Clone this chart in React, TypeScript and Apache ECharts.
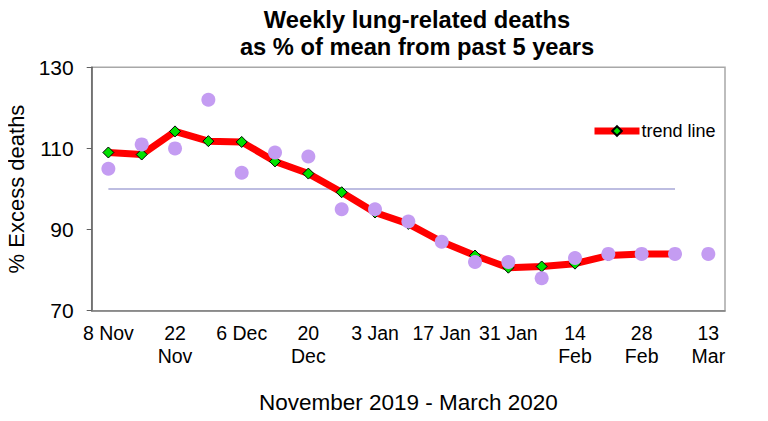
import React, { useEffect, useRef } from "react";
import * as echarts from "echarts";

const categories = [
  "8 Nov", "15 Nov", "22\nNov", "29 Nov", "6 Dec", "13 Dec", "20\nDec", "27 Dec",
  "3 Jan", "10 Jan", "17 Jan", "24 Jan", "31 Jan", "7 Feb", "14\nFeb", "21 Feb",
  "28\nFeb", "6 Mar", "13\nMar",
];
const weeklyValues = [105, 111, 110, 122, 104, 109, 108, 95, 95, 92, 87, 82, 82, 78, 83, 84, 84, 84, 84];
const trendValues: (number | null)[] = [109, 108.5, 114.2, 111.8, 111.6, 106.8, 103.8, 99.2, 94.2, 91.4, 87, 83.6, 80.6, 80.9, 81.6, 83.6, 84, 84, null];
const baselineValues: (number | null)[] = [100, 100, 100, 100, 100, 100, 100, 100, 100, 100, 100, 100, 100, 100, 100, 100, 100, 100, null];
const yTicks = [70, 90, 110, 130];

const FONT = "Liberation Sans, Arial, sans-serif";

export default function App() {
  const ref = useRef<HTMLDivElement>(null);
  useEffect(() => {
    if (!ref.current) return;
    const chart = echarts.init(ref.current, null, { renderer: "svg" });
    chart.setOption({
      animation: false,
      backgroundColor: "#ffffff",
      title: {
        text: "Weekly lung-related deaths\nas % of mean from past 5 years",
        left: 417,
        top: 6,
        padding: 0,
        textAlign: "center",
        textStyle: { fontFamily: FONT, fontSize: 23.7, fontWeight: "bold", color: "#000", lineHeight: 27 },
      },
      legend: {
        data: [{ name: "trend line" }],
        left: 591,
        top: 122,
        padding: 0,
        itemWidth: 45,
        itemHeight: 12,
        lineStyle: { width: 7, color: "#ff0000" },
        textStyle: { fontFamily: FONT, fontSize: 18, color: "#000", padding: [0, 0, 0, -3] },
      },
      grid: {
        left: 91.7,
        right: 43,
        top: 67.3,
        bottom: 110.3,
        outerBoundsMode: "none",
        containLabel: false,
        show: true,
        borderColor: "#a8a8a8",
        borderWidth: 1.5,
      },
      xAxis: {
        type: "category",
        data: categories,
        boundaryGap: true,
        name: "November 2019 - March 2020",
        nameLocation: "middle",
        nameGap: 80,
        nameTextStyle: { fontFamily: FONT, fontSize: 22.5, color: "#000" },
        axisLine: { lineStyle: { color: "#808080", width: 1.5 } },
        axisTick: { inside: true, length: 5, interval: 0, lineStyle: { color: "#808080" } },
        axisLabel: {
          interval: 1,
          fontFamily: FONT,
          fontSize: 19.5,
          color: "#000",
          lineHeight: 23,
          margin: 11,
        },
        splitLine: { show: false },
      },
      yAxis: {
        type: "value",
        min: 70,
        max: 130,
        interval: 20,
        name: "% Excess deaths",
        nameLocation: "middle",
        nameGap: 62,
        nameTextStyle: { fontFamily: FONT, fontSize: 22, color: "#000" },
        axisLine: { show: true, lineStyle: { color: "#606060", width: 1.5 } },
        axisTick: { show: true, inside: false, length: 5, lineStyle: { color: "#606060" } },
        axisLabel: {
          fontFamily: FONT,
          fontSize: 21,
          color: "#000",
          margin: 18,
          formatter: (v: number) => (yTicks.includes(v) ? String(v) : ""),
        },
        splitLine: { show: false },
      },
      series: [
        {
          name: "baseline",
          type: "line",
          data: baselineValues,
          symbol: "none",
          lineStyle: { color: "#a8a8d8", width: 1.5 },
          silent: true,
          z: 1,
        },
        {
          name: "trend line",
          type: "line",
          data: trendValues,
          symbol: "diamond",
          symbolSize: 11,
          itemStyle: { color: "#00e000", borderColor: "#000", borderWidth: 1 },
          lineStyle: { color: "#ff0000", width: 7 },
          z: 2,
        },
        {
          name: "weekly",
          type: "scatter",
          data: weeklyValues,
          symbol: "circle",
          symbolSize: 14,
          itemStyle: { color: "#c49cf2", opacity: 1 },
          z: 3,
        },
      ],
    });
    return () => chart.dispose();
  }, []);
  return <div ref={ref} style={{ width: 768, height: 421, margin: -8 }} />;
}
